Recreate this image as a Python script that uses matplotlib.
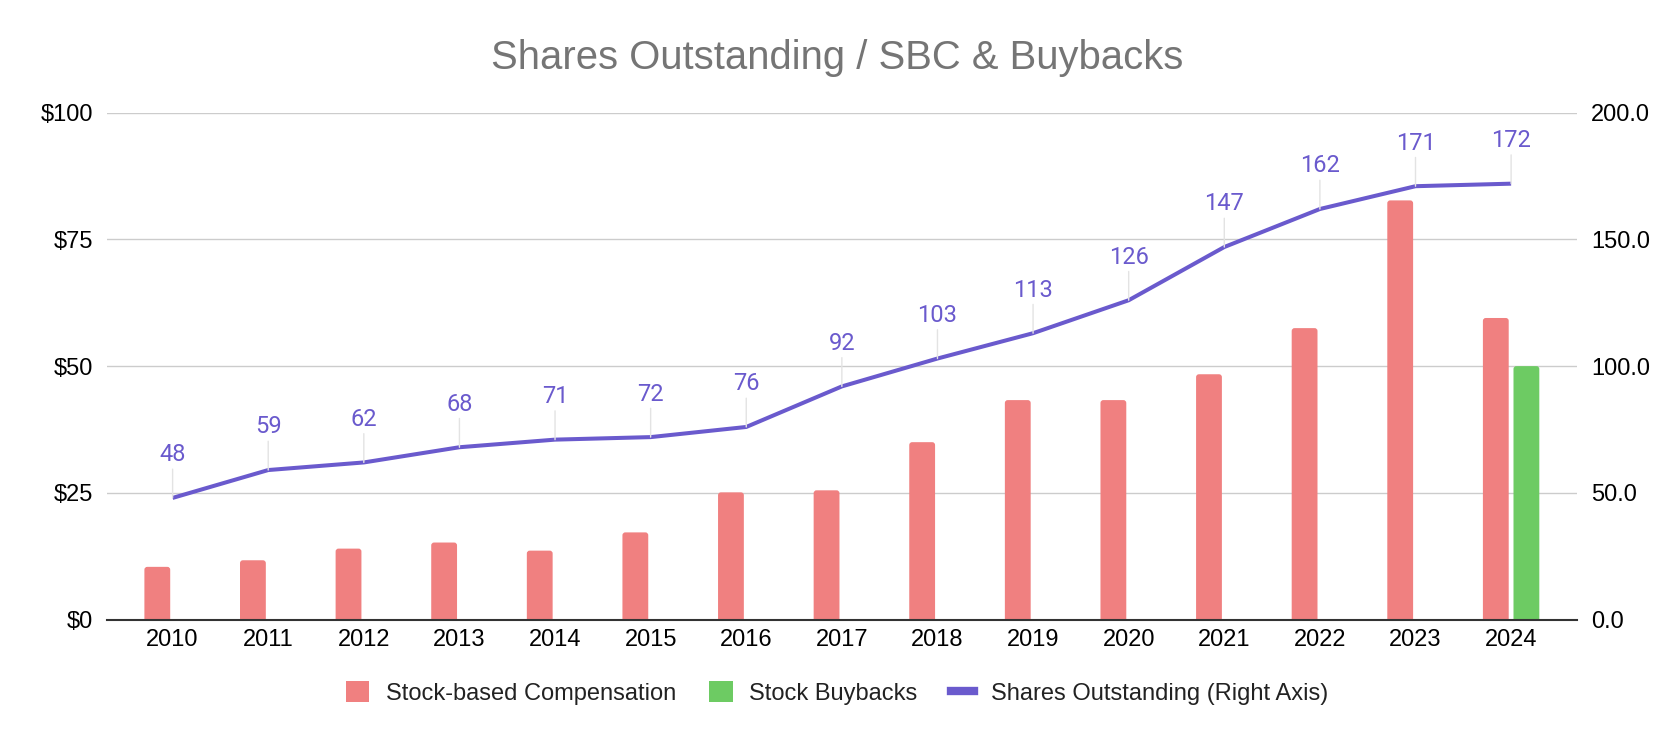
import matplotlib
matplotlib.use("Agg")
import matplotlib.pyplot as plt
import numpy as np
from matplotlib.patches import Patch, FancyBboxPatch
from matplotlib.lines import Line2D

# data
years = ["2010", "2011", "2012", "2013", "2014", "2015", "2016", "2017",
         "2018", "2019", "2020", "2021", "2022", "2023", "2024"]
sbc = [10.4, 11.7, 14.0, 15.2, 13.6, 17.2, 25.1, 25.5,
       35.0, 43.3, 43.3, 48.4, 57.5, 82.7, 59.5]
buybacks = [0, 0, 0, 0, 0, 0, 0, 0,
            0, 0, 0, 0, 0, 0, 50.0]
shares = [48, 59, 62, 68, 71, 72, 76, 92,
          103, 113, 126, 147, 162, 171, 172]

c_sbc = "#F08080"
c_buy = "#6DCB63"
c_line = "#6A5ACD"

fig = plt.figure(figsize=(16.74, 7.42), dpi=100)
ax = fig.add_axes([0.0637, 0.165, 0.8784, 0.6831])
ax2 = ax.twinx()

x = np.arange(len(years))
w = 0.27
bars1 = ax.bar(x - 0.16, sbc, width=w, color=c_sbc, zorder=2)
bars2 = ax.bar(x + 0.16, buybacks, width=w, color=c_buy, zorder=2)

ax.set_xlim(-0.69, len(years) - 1 + 0.69)
ax.set_ylim(0, 100)

# rounded tops: swap each bar rectangle for a rounded box (bottom hidden below 0)
ax_w_px = fig.get_figwidth() * fig.dpi * 0.8784
ax_h_px = fig.get_figheight() * fig.dpi * 0.6831
aspect = (100 / ax_h_px) / ((len(years) - 1 + 1.38) / ax_w_px)
for rect in list(bars1) + list(bars2):
    h = rect.get_height()
    if h <= 0:
        continue
    box = FancyBboxPatch((rect.get_x(), -2), rect.get_width(), h + 2,
                         boxstyle="round,pad=0,rounding_size=0.03",
                         mutation_aspect=aspect, facecolor=rect.get_facecolor(),
                         edgecolor="none", zorder=2)
    ax.add_patch(box)
    rect.set_visible(False)

ax.set_yticks([0, 25, 50, 75, 100])
ax.set_yticklabels(["$0", "$25", "$50", "$75", "$100"])
ax.set_xticks(x)
ax.set_xticklabels(years)
ax.grid(axis="y", color="#cccccc", linewidth=1.0, zorder=0)
ax.set_axisbelow(True)

ax2.set_ylim(0, 200)
ax2.set_yticks([0, 50, 100, 150, 200])
ax2.set_yticklabels(["0.0", "50.0", "100.0", "150.0", "200.0"])
ax2.plot(x, shares, color=c_line, linewidth=2.9, solid_capstyle="butt", zorder=3)

for xi, v in zip(x, shares):
    ax2.annotate(str(v), xy=(xi, v), xytext=(0, 31), textcoords="offset points",
                 ha="center", va="center", fontsize=17, color=c_line,
                 family=["Roboto", "DejaVu Sans"],
                 arrowprops=dict(arrowstyle="-", color="#e3e3e3", lw=1.0,
                                 shrinkA=0, shrinkB=0))

for a in (ax, ax2):
    for s in ("top", "left", "right", "bottom"):
        a.spines[s].set_visible(False)
ax.spines["bottom"].set_visible(True)
ax.spines["bottom"].set_color("#333333")
ax.spines["bottom"].set_linewidth(1.5)
ax.spines["bottom"].set_zorder(4)

ax.tick_params(axis="x", length=0, pad=7)
ax.tick_params(axis="y", length=0, pad=10)
ax2.tick_params(axis="y", length=0, pad=10)
for lab in ax.get_xticklabels() + ax.get_yticklabels() + ax2.get_yticklabels():
    lab.set_fontsize(17)
    lab.set_family("Liberation Sans")
    lab.set_color("#000000")

fig.text(0.5, 1 - 69.3 / 742, "Shares Outstanding / SBC & Buybacks",
         ha="center", va="baseline", fontsize=28.8, color="#757575",
         family="Liberation Sans")

handles = [Patch(facecolor=c_sbc, edgecolor="none"),
           Patch(facecolor=c_buy, edgecolor="none"),
           Line2D([0], [0], color=c_line, linewidth=6)]
labels = ["Stock-based Compensation", "Stock Buybacks", "Shares Outstanding (Right Axis)"]
fig.legend(handles, labels, loc="center", bbox_to_anchor=(0.5, 1 - 693 / 742),
           ncol=3, frameon=False, handlelength=1.0, handleheight=1.0,
           handletextpad=0.7, columnspacing=1.4,
           prop=dict(family="Liberation Sans", size=17), labelcolor="#222222")

fig.savefig("out.png", dpi=100)
